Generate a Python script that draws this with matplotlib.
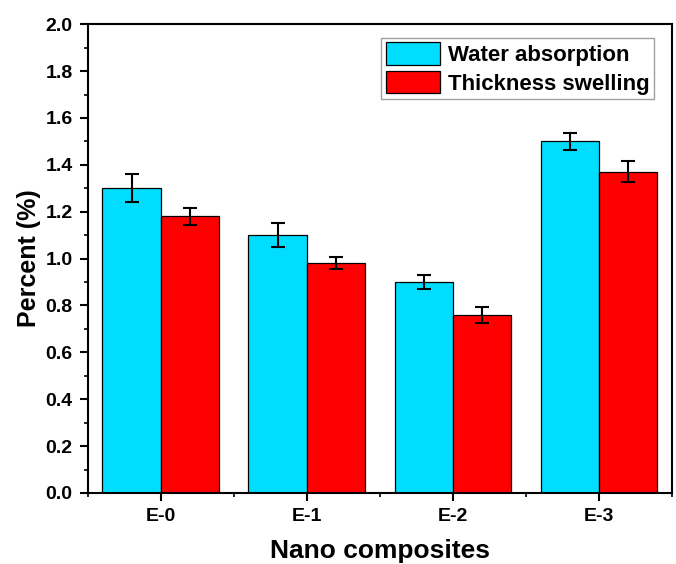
import numpy as np
import matplotlib.pyplot as plt

plt.rcParams['font.family'] = ['Liberation Sans', 'DejaVu Sans']
plt.rcParams['font.weight'] = 'bold'

samples = ['E-0', 'E-1', 'E-2', 'E-3']
water = [1.30, 1.10, 0.90, 1.50]
water_err = [0.06, 0.05, 0.03, 0.035]
swell = [1.18, 0.98, 0.76, 1.37]
swell_err = [0.035, 0.025, 0.035, 0.045]

x = np.arange(len(samples))
w = 0.4

fig = plt.figure(figsize=(6.76, 5.64), dpi=100)
ax = fig.add_axes([0.130, 0.126, 0.864, 0.831])

err_kw = dict(ecolor='black', elinewidth=1.5, capsize=5, capthick=1.5)
ax.bar(x - w / 2, water, w, yerr=water_err, color='#00DDFF', edgecolor='black',
       linewidth=0.9, label='Water absorption', error_kw=err_kw)
ax.bar(x + w / 2, swell, w, yerr=swell_err, color='#FF0000', edgecolor='black',
       linewidth=0.9, label='Thickness swelling', error_kw=err_kw)

ax.set_xlim(-0.5, 3.5)
ax.set_ylim(0, 2.0)
ax.set_xticks(x)
ax.set_xticklabels(samples, fontsize=14, fontweight='bold')
ax.set_xticks(np.arange(-0.5, 3.6, 1.0), minor=True)
ax.set_yticks(np.arange(0, 2.01, 0.2))
ax.set_yticks(np.arange(0, 2.01, 0.1), minor=True)
ax.set_yticklabels(['%.1f' % v for v in np.arange(0, 2.01, 0.2)], fontsize=14, fontweight='bold')

ax.tick_params(which='major', direction='out', length=6, width=1.5, pad=5)
ax.tick_params(which='minor', direction='out', length=3, width=1.2)
for s in ax.spines.values():
    s.set_linewidth(1.5)

ax.set_ylabel('Percent (%)', fontsize=18, fontweight='bold', labelpad=3)
ax.set_xlabel('Nano composites', fontsize=19, fontweight='bold', labelpad=10)

leg = ax.legend(loc='upper right', bbox_to_anchor=(0.969, 0.971),
                prop={'weight': 'bold', 'size': 16}, fancybox=False,
                edgecolor='#888888', handlelength=2.45, handleheight=1.2,
                handletextpad=0.35, borderpad=0.2, labelspacing=0.2, borderaxespad=0)
leg.get_frame().set_linewidth(1.0)

fig.savefig('out.png', dpi=100)
